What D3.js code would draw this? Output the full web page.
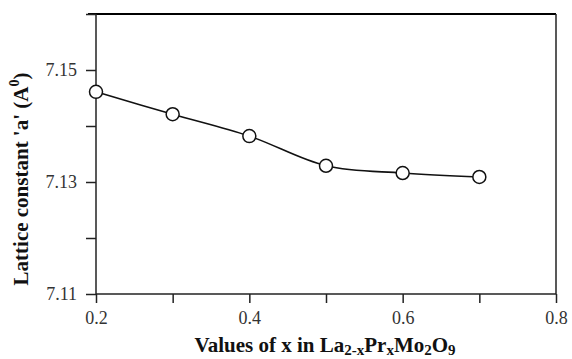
<!DOCTYPE html>
<html>
<head>
<meta charset="utf-8">
<script src="https://cdn.jsdelivr.net/npm/d3@7"></script>
<style>
  body { margin: 0; background: #fff; }
  svg { display: block; font-family: "Liberation Serif", "Times New Roman", serif; }
  svg .tick text { font-family: "Liberation Serif", "Times New Roman", serif !important; }
</style>
</head>
<body>
<figure id="chart" style="margin:0"></figure>
<script>
// data
var xValues = [0.2, 0.3, 0.4, 0.5, 0.6, 0.7];
var latticeA = [7.1461, 7.1421, 7.1382, 7.1329, 7.1316, 7.1309];
var xTicks = [0.2, 0.3, 0.4, 0.5, 0.6, 0.7, 0.8];
var yTicks = [7.11, 7.12, 7.13, 7.14, 7.15, 7.16];

let dimensions = {
    width: 572,
    height: 359,
    margin: { top: 14, right: 16, bottom: 65, left: 96 },
};
dimensions.boundedWidth = dimensions.width - dimensions.margin.left - dimensions.margin.right;
dimensions.boundedHeight = dimensions.height - dimensions.margin.top - dimensions.margin.bottom;

var root = d3.select("figure#chart")
    .append("svg")
    .attr("width", dimensions.width)
    .attr("height", dimensions.height);

var svg = root.append("g")
    .attr("transform", `translate(${dimensions.margin.left},${dimensions.margin.top})`);

var xScale = d3.scaleLinear().domain([0.2, 0.8]).range([0, dimensions.boundedWidth]);
var yScale = d3.scaleLinear().domain([7.11, 7.16]).range([dimensions.boundedHeight, 0]);

var data = xValues.map((x, i) => ({ x: x, a: latticeA[i] }));

// frame: top and right
svg.append("line")
    .attr("x1", -8).attr("x2", dimensions.boundedWidth)
    .attr("y1", 0).attr("y2", 0)
    .attr("stroke", "#000").attr("stroke-width", 2.2);
svg.append("line")
    .attr("x1", dimensions.boundedWidth).attr("x2", dimensions.boundedWidth)
    .attr("y1", 0).attr("y2", dimensions.boundedHeight)
    .attr("stroke", "#222").attr("stroke-width", 1.5);

// axes
var xAxis = svg.append("g")
    .attr("transform", `translate(0,${dimensions.boundedHeight})`)
    .call(d3.axisBottom(xScale)
        .tickValues(xTicks)
        .tickSize(9)
        .tickPadding(8)
        .tickFormat(d => (Math.round(d * 10) % 2 === 0) ? d3.format(".1f")(d) : ""));

var yAxis = svg.append("g")
    .call(d3.axisLeft(yScale)
        .tickValues(yTicks)
        .tickSize(10)
        .tickPadding(9)
        .tickFormat(d => (Math.round(d * 100) % 2 === 1 && d < 7.155) ? d3.format(".2f")(d) : ""));

[xAxis, yAxis].forEach(ax => {
    ax.attr("font-family", null).attr("font-size", null);
    ax.selectAll(".tick text")
        .style("font-family", "'Liberation Serif', serif")
        .style("font-size", "18px")
        .attr("fill", "#333");
    ax.select(".domain").attr("stroke", "#222").attr("stroke-width", 1.5);
    ax.selectAll(".tick line").attr("stroke", "#222").attr("stroke-width", 1.5);
});
yAxis.select(".domain").attr("d", `M0,0V${dimensions.boundedHeight}`);
xAxis.select(".domain").attr("d", `M0,0H${dimensions.boundedWidth}`);

// line
var line = d3.line()
    .x(d => xScale(d.x))
    .y(d => yScale(d.a))
    .curve(d3.curveCatmullRom);

svg.append("path")
    .datum(data)
    .attr("fill", "none")
    .attr("stroke", "#111")
    .attr("stroke-width", 1.6)
    .attr("d", line);

svg.selectAll("circle")
    .data(data)
    .enter()
    .append("circle")
    .attr("cx", d => xScale(d.x))
    .attr("cy", d => yScale(d.a))
    .attr("r", 6.5)
    .attr("fill", "#fff")
    .attr("stroke", "#111")
    .attr("stroke-width", 1.5);

// x title
var xt = root.append("text")
    .attr("x", 325).attr("y", 352)
    .attr("text-anchor", "middle")
    .attr("font-size", 21).attr("font-weight", "bold")
    .attr("fill", "#111");
xt.append("tspan").text("Values of x in La");
xt.append("tspan").attr("font-size", 15).attr("dy", 3).text("2-x");
xt.append("tspan").attr("dy", -3).text("Pr");
xt.append("tspan").attr("font-size", 15).attr("dy", 3).text("x");
xt.append("tspan").attr("dy", -3).text("Mo");
xt.append("tspan").attr("font-size", 15).attr("dy", 3).text("2");
xt.append("tspan").attr("dy", -3).text("O");
xt.append("tspan").attr("font-size", 15).attr("dy", 3).text("9");

// y title
var yt = root.append("text")
    .attr("transform", "translate(28,179) rotate(-90)")
    .attr("text-anchor", "middle")
    .attr("font-size", 21).attr("font-weight", "bold")
    .attr("fill", "#111");
yt.append("tspan").text("Lattice constant 'a' (A");
yt.append("tspan").attr("font-size", 14).attr("dy", -9).text("0");
yt.append("tspan").attr("dy", 9).text(")");
</script>
</body>
</html>
